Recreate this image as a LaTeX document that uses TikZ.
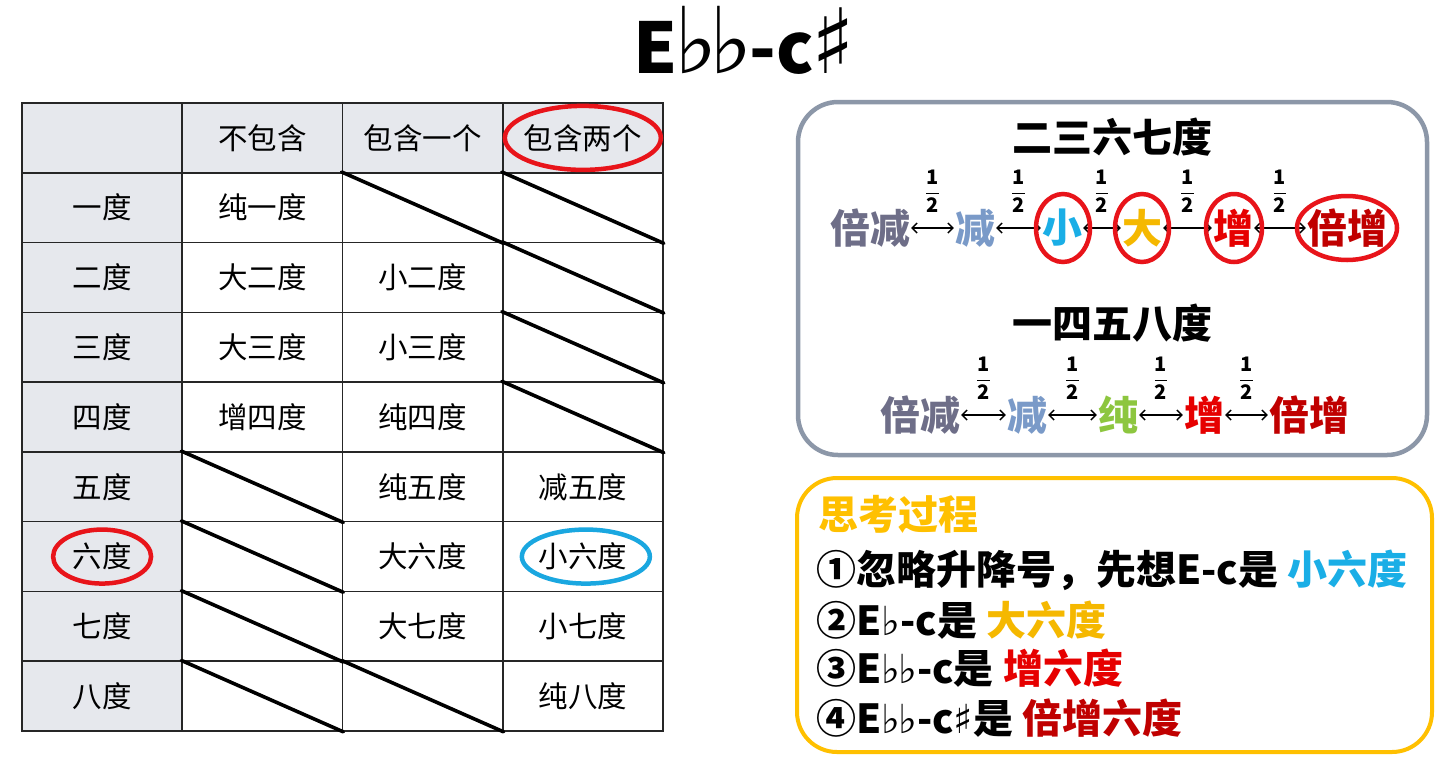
\documentclass[tikz,border=0pt]{standalone}
\usepackage{fontspec}
\setmainfont{Noto Sans CJK SC}
\newfontfamily\musfont{DejaVu Sans}
\newcommand{\fl}{{\musfont\mdseries ♭}}
\newcommand{\shp}{{\musfont\mdseries ♯}}
\newcommand{\bigfl}{{\musfont\mdseries\fontsize{92}{92}\selectfont ♭}}
\newcommand{\bigshp}{{\musfont\mdseries\fontsize{90}{90}\selectfont ♯}}
\usetikzlibrary{arrows.meta,calc}
\definecolor{hdrgray}{HTML}{E6E8ED}
\definecolor{ringred}{HTML}{E8141A}
\definecolor{ringblue}{HTML}{1AA7E0}
\definecolor{boxgray}{HTML}{8C97A8}
\definecolor{gold}{HTML}{FFC000}
\definecolor{cbj}{HTML}{6E6E88}
\definecolor{cj}{HTML}{7A9AC8}
\definecolor{cxiao}{HTML}{1AAEE6}
\definecolor{cda}{HTML}{F5B800}
\definecolor{czeng}{HTML}{E60000}
\definecolor{cbz}{HTML}{C00000}
\definecolor{cchun}{HTML}{8DC63F}
\tikzset{
  cell/.style={draw=black!85, line width=1.6pt, minimum width=160.25pt, minimum height=69.78pt, inner sep=0pt, font=\fontsize{29.5}{29.5}\selectfont},
  diag/.style={line width=3.6pt, black, line cap=round},
  redring/.style={draw=ringred, line width=4.5pt},
  bluering/.style={draw=ringblue, line width=4.5pt},
  word/.style={inner sep=1pt, font=\fontsize{40}{40}\selectfont\bfseries},
  boxhead/.style={inner sep=1pt, font=\fontsize{40}{40}\selectfont\bfseries},
  arr/.style={{Straight Barb[length=5pt,width=10pt]}-{Straight Barb[length=5pt,width=10pt]}, line width=1.4pt},
  half/.style={midway, yshift=37pt, inner sep=0pt, font=\fontsize{20}{20}\selectfont\bfseries},
  thought/.style={anchor=west, inner sep=0pt, font=\fontsize{40}{40}\selectfont\bfseries}
}
\newcommand{\halfsym}{$\displaystyle\frac{\hbox{1}}{\hbox{2}}$}
\begin{document}
\begin{tikzpicture}[x=1pt,y=-1pt]
\useasboundingbox[fill=white] (0,0) rectangle (1448,772);

% title
\node[font=\fontsize{70}{70}\selectfont\bfseries, inner sep=2pt, anchor=base] (title) at (744,73) {E\kern-3pt\bigfl\kern-8pt\bigfl\kern-3pt-c\kern-3pt\bigshp};

% table
\foreach \r/\c/\t in {0/0/{},0/1/不包含,0/2/包含一个,0/3/包含两个,
  1/0/一度,1/1/纯一度,1/2/{},1/3/{},
  2/0/二度,2/1/大二度,2/2/小二度,2/3/{},
  3/0/三度,3/1/大三度,3/2/小三度,3/3/{},
  4/0/四度,4/1/增四度,4/2/纯四度,4/3/{},
  5/0/五度,5/1/{},5/2/纯五度,5/3/减五度,
  6/0/六度,6/1/{},6/2/大六度,6/3/小六度,
  7/0/七度,7/1/{},7/2/大七度,7/3/小七度,
  8/0/八度,8/1/{},8/2/{},8/3/纯八度}{
  \pgfmathtruncatemacro\ishdr{(\r==0)||(\c==0)}
  \ifnum\ishdr=1 \def\fillc{hdrgray}\else\def\fillc{white}\fi
  \node[cell, fill=\fillc] (c\r\c) at ({102.1+160.25*\c},{103+69.78*(\r+0.5)}) {\t};
}
\foreach \n in {c12,c13,c23,c33,c43,c51,c61,c71,c81,c82}{
  \draw[diag] (\n.north west) -- (\n.south east);
}
\draw[redring] (c03) ellipse [x radius=78pt, y radius=32pt];
\draw[redring] (c60) ellipse [x radius=49pt, y radius=27pt];
\draw[bluering] ($(c63)+(3,0)$) ellipse [x radius=64pt, y radius=27pt];

% top box
\draw[draw=boxgray, line width=4.5pt, rounded corners=40pt] (798,102) rectangle (1427,455);
\node[boxhead] (h1) at (1112,137) {二三六七度};
\node[word, text=cbj] (a1) at (870,228) {倍减};
\node[word, text=cj] (a2) at (975,228) {减};
\node[word, text=cxiao] (a3) at (1062,228) {小};
\node[word, text=cda] (a4) at (1142,228) {大};
\node[word, text=czeng] (a5) at (1233,228) {增};
\node[word, text=cbz] (a6) at (1347,228) {倍增};
\draw[arr] (a1) -- node[half]{\halfsym} (a2);
\draw[arr] (a2) -- node[half]{\halfsym} (a3);
\draw[arr] (a3) -- node[half]{\halfsym} (a4);
\draw[arr] (a4) -- node[half]{\halfsym} (a5);
\draw[arr] (a5) -- node[half]{\halfsym} (a6);
\draw[redring] ($(a3)+(1,0)$) ellipse [x radius=27pt, y radius=34pt];
\draw[redring] (a4) ellipse [x radius=27pt, y radius=34pt];
\draw[redring] ($(a5)+(1,0)$) ellipse [x radius=28pt, y radius=34pt];
\draw[redring] (a6) ellipse [x radius=50pt, y radius=32pt];

\node[boxhead] (h2) at (1112,323) {一四五八度};
\node[word, text=cbj] (b1) at (920,415) {倍减};
\node[word, text=cj] (b2) at (1027,415) {减};
\node[word, text=cchun] (b3) at (1118,415) {纯};
\node[word, text=czeng] (b4) at (1204,415) {增};
\node[word, text=cbz] (b5) at (1309,415) {倍增};
\draw[arr] (b1) -- node[half]{\halfsym} (b2);
\draw[arr] (b2) -- node[half]{\halfsym} (b3);
\draw[arr] (b3) -- node[half]{\halfsym} (b4);
\draw[arr] (b4) -- node[half]{\halfsym} (b5);

% bottom box
\draw[draw=gold, line width=4pt, rounded corners=40pt] (797,478) rectangle (1432,752);
\node[thought, text=gold] (k0) at (818,514) {思考过程};
\node[thought] (k1) at (816,570) {①忽略升降号，先想E-c是 \textcolor{cxiao}{小六度}};
\node[thought] (k2) at (816,620) {②E\fl-c是 \textcolor{cda}{大六度}};
\node[thought] (k3) at (816,668) {③E\fl\kern-2pt\fl-c是 \textcolor{czeng}{增六度}};
\node[thought] (k4) at (816,718) {④E\fl\kern-2pt\fl-c\shp 是 \textcolor{cbz}{倍增六度}};
\end{tikzpicture}
\end{document}
